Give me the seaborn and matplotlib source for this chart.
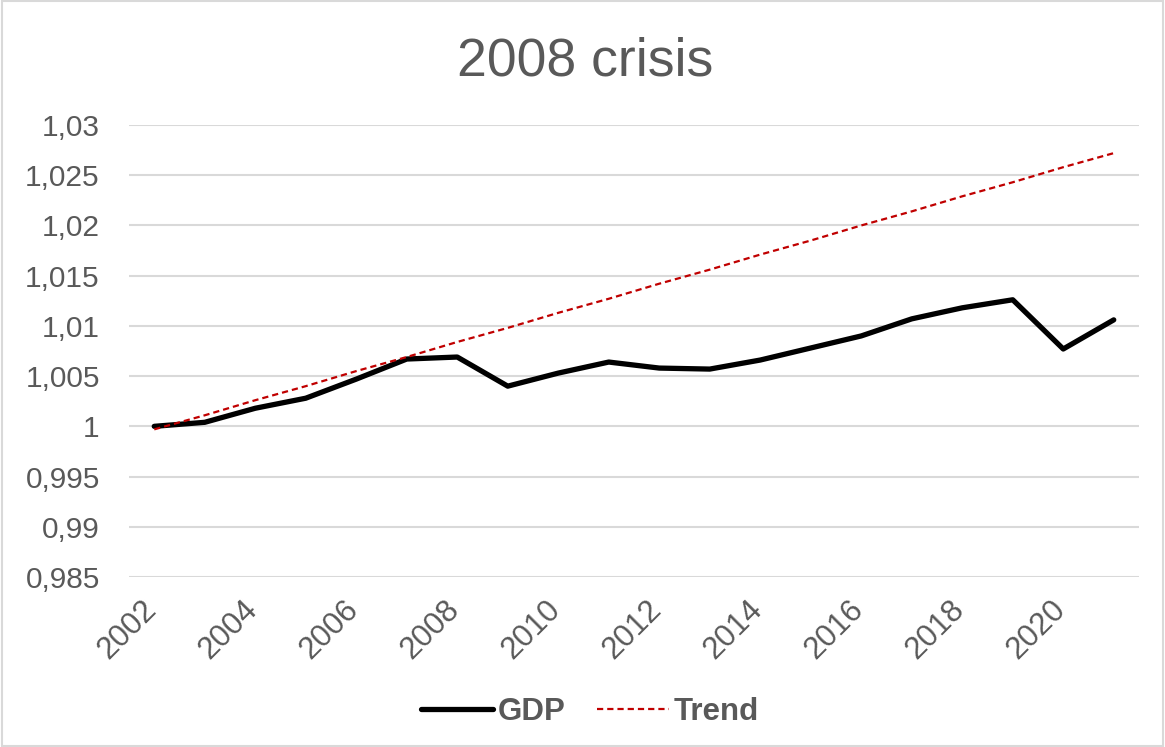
import matplotlib
matplotlib.use("Agg")
import matplotlib.pyplot as plt
import matplotlib.transforms as mtransforms
from matplotlib.patches import Rectangle
import seaborn as sns
import pandas as pd

years = list(range(2002, 2022))
gdp = [1.0000, 1.0004, 1.0018, 1.0028, 1.0047, 1.0067, 1.0069, 1.0040, 1.0053, 1.0064,
       1.0058, 1.0057, 1.0066, 1.0078, 1.0090, 1.0107, 1.0118, 1.0126, 1.0077, 1.0106]
trend = [0.9997, 1.0011, 1.0026, 1.0040, 1.0055, 1.0069, 1.0084, 1.0098, 1.0113, 1.0127,
         1.0142, 1.0156, 1.0171, 1.0185, 1.0200, 1.0214, 1.0229, 1.0243, 1.0258, 1.0272]
y_ticks = [0.985, 0.99, 0.995, 1.0, 1.005, 1.01, 1.015, 1.02, 1.025, 1.03]
x_ticks = list(range(2002, 2022, 2))
title = "2008 crisis"

sns.set_style("white")
plt.rcParams['font.family'] = ['Liberation Sans', 'DejaVu Sans']

GRAY = "#595959"
fig = plt.figure(figsize=(11.65, 7.47), dpi=100)
ax = fig.add_axes([129/1165, 1-577/747, (1139-129)/1165, (577-125)/747])

df = pd.DataFrame({"year": years, "GDP": gdp, "Trend": trend})
sns.lineplot(data=df, x="year", y="GDP", ax=ax, color="black", linewidth=3.8,
             label="GDP", solid_capstyle="round")
sns.lineplot(data=df, x="year", y="Trend", ax=ax, color="#c00000", linewidth=1.6,
             linestyle=(0, (2.8, 1.8)), label="Trend")

ax.set_xlim(2001.5, 2021.5)
ax.set_ylim(0.985, 1.03)
ax.set_yticks(y_ticks)
ax.set_yticklabels([f"{round(v, 3):g}".replace('.', ',') for v in y_ticks])
ax.set_xticks(x_ticks)
ax.set_xticklabels([str(x) for x in x_ticks])
ax.yaxis.grid(True, color="#d9d9d9", linewidth=1.5)
ax.xaxis.grid(False)
ax.set_axisbelow(True)
for s in ax.spines.values():
    s.set_visible(False)
ax.set_xlabel("")
ax.set_ylabel("")
ax.tick_params(axis='y', length=0, pad=21, labelsize=21.5, labelcolor=GRAY)
ax.tick_params(axis='x', length=0, pad=20, labelsize=22.5, labelcolor=GRAY)
offset = mtransforms.ScaledTranslation(-0.02, 0, fig.dpi_scale_trans)
for lab in ax.get_xticklabels():
    lab.set_rotation(45)
    lab.set_ha('right')
    lab.set_va('center')
    lab.set_rotation_mode('anchor')
    lab.set_transform(lab.get_transform() + offset)

ax.legend_.remove()
handles, labels = ax.get_legend_handles_labels()
leg = fig.legend(handles, labels, loc='center', bbox_to_anchor=(0.5064, 0.047), ncol=2,
                 frameon=False, prop={'weight': 'bold', 'size': 22.5}, handlelength=2.3,
                 handletextpad=0.16, columnspacing=1.0)
for t in leg.get_texts():
    t.set_color(GRAY)

fig.text(0.5025, 0.918, title, ha='center', va='center', fontsize=38.5, color=GRAY)
fig.patches.append(Rectangle((0.002, 0.002), 0.996, 0.996, transform=fig.transFigure,
                             fill=False, edgecolor="#d9d9d9", linewidth=1.5))

fig.savefig("out.png", dpi=100)
